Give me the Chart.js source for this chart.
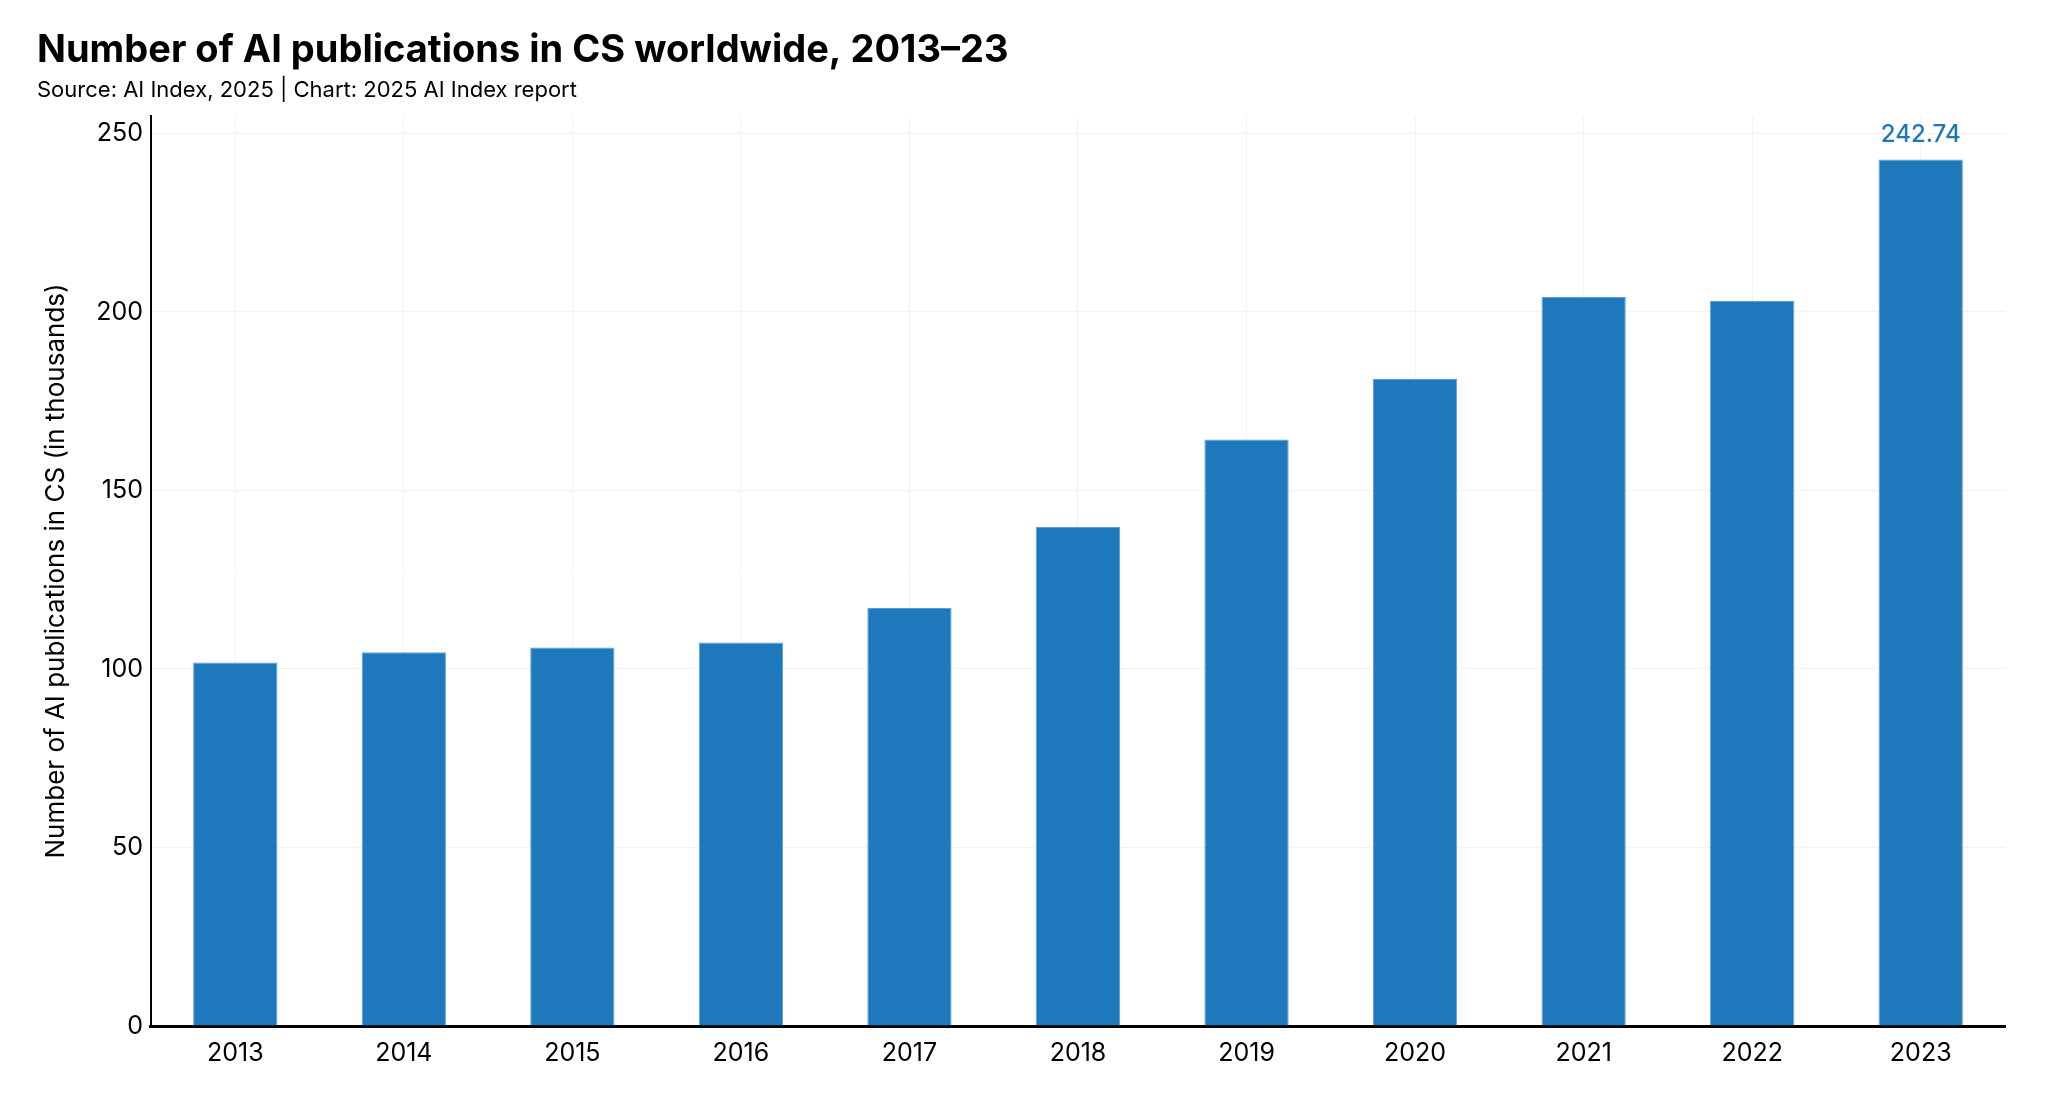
<!DOCTYPE html>
<html>
<head>
<meta charset="utf-8">
<script src="https://cdn.jsdelivr.net/npm/chart.js@4"></script>
<style>
  html, body { margin: 0; padding: 0; background: #fff; }
  #wrap { width: 2048px; height: 1120px; }
</style>
</head>
<body>
<div id="wrap"><canvas id="pubChart"></canvas></div>
<script>
const years = ["2013", "2014", "2015", "2016", "2017", "2018", "2019", "2020", "2021", "2022", "2023"];
const publications = [101.8, 104.7, 106.0, 107.4, 117.1, 139.8, 164.3, 181.2, 204.2, 203.1, 242.74];
const yTicks = [0, 50, 100, 150, 200, 250];
const labelledIndex = 10;

const FONT = "Inter, 'Noto Sans', sans-serif";
const barBlue = "#1d78bc";

// value label above the last bar
const valueLabel = {
    id: "valueLabel",
    afterDatasetsDraw(chart) {
        const bar = chart.getDatasetMeta(0).data[labelledIndex];
        const ctx = chart.ctx;
        ctx.save();
        ctx.font = "500 24px " + FONT;
        ctx.fillStyle = barBlue;
        ctx.textAlign = "center";
        ctx.textBaseline = "bottom";
        ctx.fillText(publications[labelledIndex].toFixed(2), bar.x, bar.y - 13);
        ctx.restore();
    }
};

new Chart(document.getElementById("pubChart"), {
    type: "bar",
    data: {
        labels: years,
        datasets: [{
            data: publications,
            backgroundColor: barBlue,
            borderColor: "#5a9fd6",
            borderWidth: 1,
            categoryPercentage: 1,
            barPercentage: 0.5
        }]
    },
    options: {
        responsive: true,
        maintainAspectRatio: false,
        animation: false,
        layout: { padding: { left: 37, right: 43, top: 0, bottom: 40 } },
        plugins: {
            legend: { display: false },
            tooltip: { enabled: false },
            title: {
                display: true,
                text: "Number of AI publications in CS worldwide, 2013–23",
                align: "start",
                color: "#000",
                font: { family: FONT, size: 38, weight: "bold" },
                padding: { top: 28, bottom: 4 }
            },
            subtitle: {
                display: true,
                text: "Source: AI Index, 2025 | Chart: 2025 AI Index report",
                align: "start",
                color: "#000",
                font: { family: FONT, size: 22 },
                padding: { bottom: 12 }
            }
        },
        scales: {
            x: {
                offset: true,
                grid: { offset: false, color: "#f2f2f2", lineWidth: 1, drawTicks: false },
                border: { color: "#000", width: 3 },
                ticks: { color: "#000", font: { family: FONT, size: 25 }, padding: 12 }
            },
            y: {
                min: 0,
                max: 254.9,
                afterBuildTicks(axis) { axis.ticks = yTicks.map(v => ({ value: v })); },
                grid: { color: "#f2f2f2", lineWidth: 1, drawTicks: false },
                border: { color: "#000", width: 2 },
                ticks: { color: "#000", font: { family: FONT, size: 25 }, padding: 8 },
                title: {
                    display: true,
                    text: "Number of AI publications in CS (in thousands)",
                    color: "#000",
                    font: { family: FONT, size: 26 },
                    padding: { bottom: 16 }
                }
            }
        }
    },
    plugins: [valueLabel]
});
</script>
</body>
</html>
